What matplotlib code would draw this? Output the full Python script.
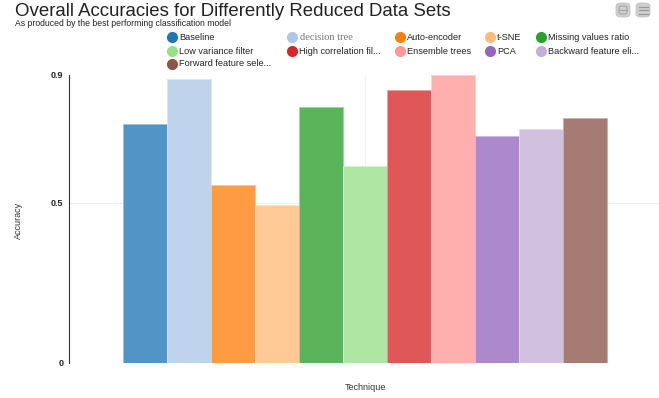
import matplotlib
matplotlib.use("Agg")
import matplotlib.pyplot as plt
from matplotlib.patches import FancyBboxPatch
from matplotlib.colors import to_rgb

plt.rcParams['font.family'] = ['Liberation Sans', 'DejaVu Sans']

techniques = ["Baseline", "decision tree", "Auto-encoder", "t-SNE", "Missing values ratio",
              "Low variance filter", "High correlation fil...", "Ensemble trees", "PCA",
              "Backward feature eli...", "Forward feature sele..."]
accuracy = [0.747, 0.886, 0.557, 0.494, 0.801, 0.616, 0.852, 0.899, 0.710, 0.731, 0.767]
colors = ["#1f77b4", "#aec7e8", "#ff7f0e", "#ffbb78", "#2ca02c", "#98df8a",
          "#d62728", "#ff9896", "#9467bd", "#c5b0d5", "#8c564b"]
yticks = [0, 0.5, 0.9]
ytick_labels = ["0", "0.5", "0.9"]

W, H = 659, 398
fig = plt.figure(figsize=(W / 100, H / 100), dpi=100)

def fx(px):
    return px / W

def fy(py):
    return 1 - py / H

def blend(c, a=0.78):
    r, g, b = to_rgb(c)
    return (r * a + (1 - a), g * a + (1 - a), b * a + (1 - a))

ax_left, ax_right, ax_top, ax_bottom = 69, 661, 75, 363
ax = fig.add_axes([fx(ax_left), fy(ax_bottom), fx(ax_right - ax_left), (ax_bottom - ax_top) / H])

bar_w = 44 / (ax_right - ax_left)
n = len(accuracy)
center = 0.5
start = center - n * bar_w / 2
for i, (v, c) in enumerate(zip(accuracy, colors)):
    ax.bar(start + (i + 0.5) * bar_w, v, width=bar_w, color=blend(c),
           edgecolor=blend(c, 0.45), linewidth=0.6, zorder=2)

ax.set_xlim(0, 1)
ax.set_ylim(0, 0.9)
ax.set_yticks(yticks)
ax.set_yticklabels(ytick_labels, fontsize=6.5, fontweight='bold', color='#222222')
ax.tick_params(axis='y', length=0, pad=4)
ax.set_xticks([])
for y in yticks[:2]:
    ax.axhline(y, color='#eeeeee', linewidth=0.8, zorder=0)
ax.axvline(0.5, color='#f3f3f3', linewidth=0.8, zorder=0)
for s in ['top', 'right', 'bottom']:
    ax.spines[s].set_visible(False)
ax.spines['left'].set_color('#333333')
ax.spines['left'].set_linewidth(0.8)

fig.text(fx(18), fy(220), "Accuracy", rotation=90, fontsize=6.5, color='#333333',
         ha='center', va='center')
fig.text(fx(365), fy(388), "Technique", fontsize=6.5, color='#333333', ha='center', va='center')

fig.text(fx(15), fy(11), "Overall Accuracies for Differently Reduced Data Sets",
         fontsize=13.4, color='#222222', ha='left', va='center')
fig.text(fx(15), fy(23), "As produced by the best performing classification model",
         fontsize=6.2, color='#222222', ha='left', va='center')

# legend
col_x = [172, 292, 400, 490, 541]
row_y = [37, 51, 64]
for i, (lab, c) in enumerate(zip(techniques, colors)):
    r, k = divmod(i, 5)
    x, y = col_x[k], row_y[r]
    fig.lines.append(plt.Line2D([fx(x)], [fy(y)], marker='o', markersize=7,
                                color=c, transform=fig.transFigure, linestyle='None'))
    if lab == "decision tree":
        fig.text(fx(x + 8), fy(y), lab, fontsize=7.5, family=['Liberation Serif'],
                 color='#777777', ha='left', va='center')
    else:
        fig.text(fx(x + 7), fy(y), lab, fontsize=6.6, color='#222222', ha='left', va='center')

# toolbar icons
for cx in [623, 643]:
    p = FancyBboxPatch((fx(cx - 7), fy(17)), fx(14), 14 / H,
                       boxstyle="round,pad=0,rounding_size=0.008",
                       transform=fig.transFigure, facecolor='#cfcfcf', edgecolor='#bdbdbd',
                       linewidth=0.5)
    fig.patches.append(p)
fig.lines.append(plt.Line2D([fx(619), fx(627)], [fy(10), fy(10)], color='#999999', lw=0.6,
                            transform=fig.transFigure))
fig.patches.append(FancyBboxPatch((fx(619), fy(14)), fx(8), 8 / H,
                                  boxstyle="round,pad=0,rounding_size=0.004",
                                  transform=fig.transFigure, facecolor='none',
                                  edgecolor='#999999', linewidth=0.6))
for yy in [6.5, 10, 13.5]:
    fig.lines.append(plt.Line2D([fx(638.5), fx(647.5)], [fy(yy), fy(yy)], color='#999999', lw=0.9,
                                transform=fig.transFigure))

fig.savefig("out.png", dpi=100)
